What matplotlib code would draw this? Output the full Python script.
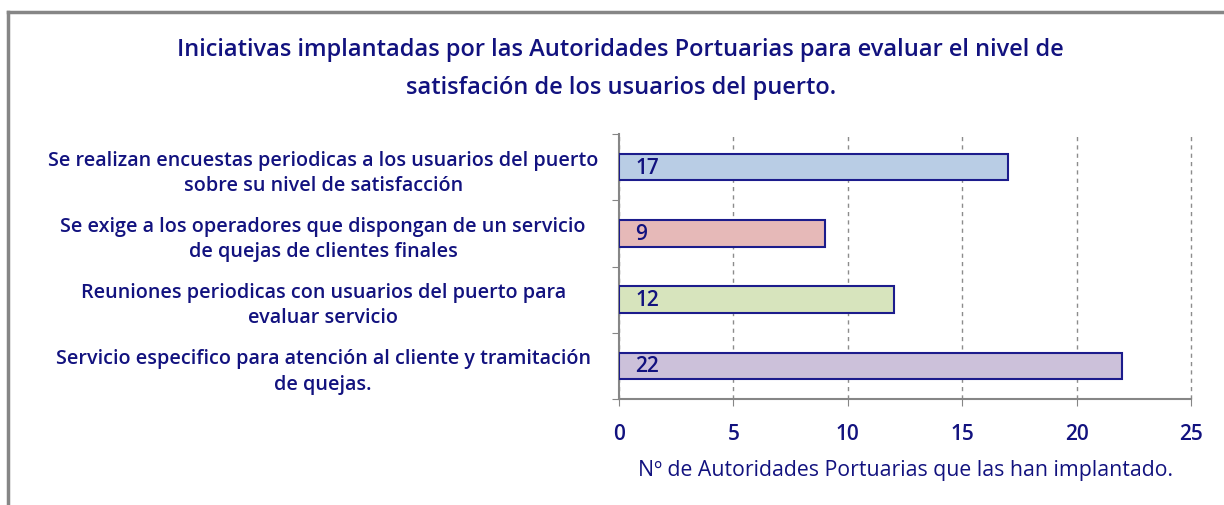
import matplotlib.pyplot as plt
from matplotlib.lines import Line2D

categorias = [
    "Se realizan encuestas periodicas a los usuarios del puerto\nsobre su nivel de satisfacción",
    "Se exige a los operadores que dispongan de un servicio\nde quejas de clientes finales",
    "Reuniones periodicas con usuarios del puerto para\nevaluar servicio",
    "Servicio especifico para atención al cliente y tramitación\nde quejas.",
]
valores = [17, 9, 12, 22]
colores = ["#B9CDE5", "#E6B9B8", "#D7E4BD", "#CCC1DA"]
xticks = [0, 5, 10, 15, 20, 25]

azul = "#12127F"
gris = "#868686"

plt.rcParams['font.family'] = ['Open Sans', 'DejaVu Sans']

fig = plt.figure(figsize=(12.24, 5.06), dpi=100)
ax = fig.add_axes([619/1224, 1-400/506, (1191-619)/1224, (400-135)/506])

pos = list(range(len(valores)))
ax.barh(pos, valores, height=0.4, color=colores, edgecolor="#1C1C8C", linewidth=1.5, zorder=3)
for p, v in zip(pos, valores):
    ax.text(0.7, p, str(v), va='center', ha='left', color=azul, fontsize=15,
            fontweight='semibold', zorder=4)

ax.set_xlim(0, 25)
ax.set_ylim(3.5, -0.5)
ax.set_xticks(xticks)
ax.set_xticklabels([str(t) for t in xticks], color=azul, fontsize=15, fontweight='semibold')
ax.tick_params(axis='x', length=5, color=gris, pad=12)

# ticks at category boundaries, labels at the centres
ax.set_yticks([p - 0.5 for p in pos] + [pos[-1] + 0.5])
ax.set_yticklabels([])
ax.set_yticks(pos, minor=True)
ax.set_yticklabels(categorias, minor=True, color=azul, fontsize=14.2, fontweight='semibold',
                   ha='center', linespacing=1.35)
ax.tick_params(axis='y', which='major', length=5, color=gris)
ax.tick_params(axis='y', which='minor', length=0, pad=213)

ax.grid(axis='x', linestyle=(0, (3, 3)), color="#8C8C8C", linewidth=1, zorder=0)
for gl in ax.get_xgridlines():
    gl.set_clip_on(False)
for s in ['top', 'right']:
    ax.spines[s].set_visible(False)
for s in ['left', 'bottom']:
    ax.spines[s].set_color(gris)
    ax.spines[s].set_linewidth(1.5)

ax.set_xlabel("Nº de Autoridades Portuarias que las han implantado.", color=azul, fontsize=15.3,
              labelpad=11)

fig.text(0.507, 1-69/506,
         "Iniciativas implantadas por las Autoridades Portuarias para evaluar el nivel de\n"
         "satisfación de los usuarios del puerto.",
         ha='center', va='center', color=azul, fontsize=17, fontweight='semibold', linespacing=1.75)

# outer frame of the chart area
fig.add_artist(Line2D([8/1224, 8/1224], [0, 1-13/506], color=gris, linewidth=2.5))
fig.add_artist(Line2D([8/1224, 1], [1-13/506, 1-13/506], color=gris, linewidth=2.5))

fig.savefig("out.png", dpi=100)
